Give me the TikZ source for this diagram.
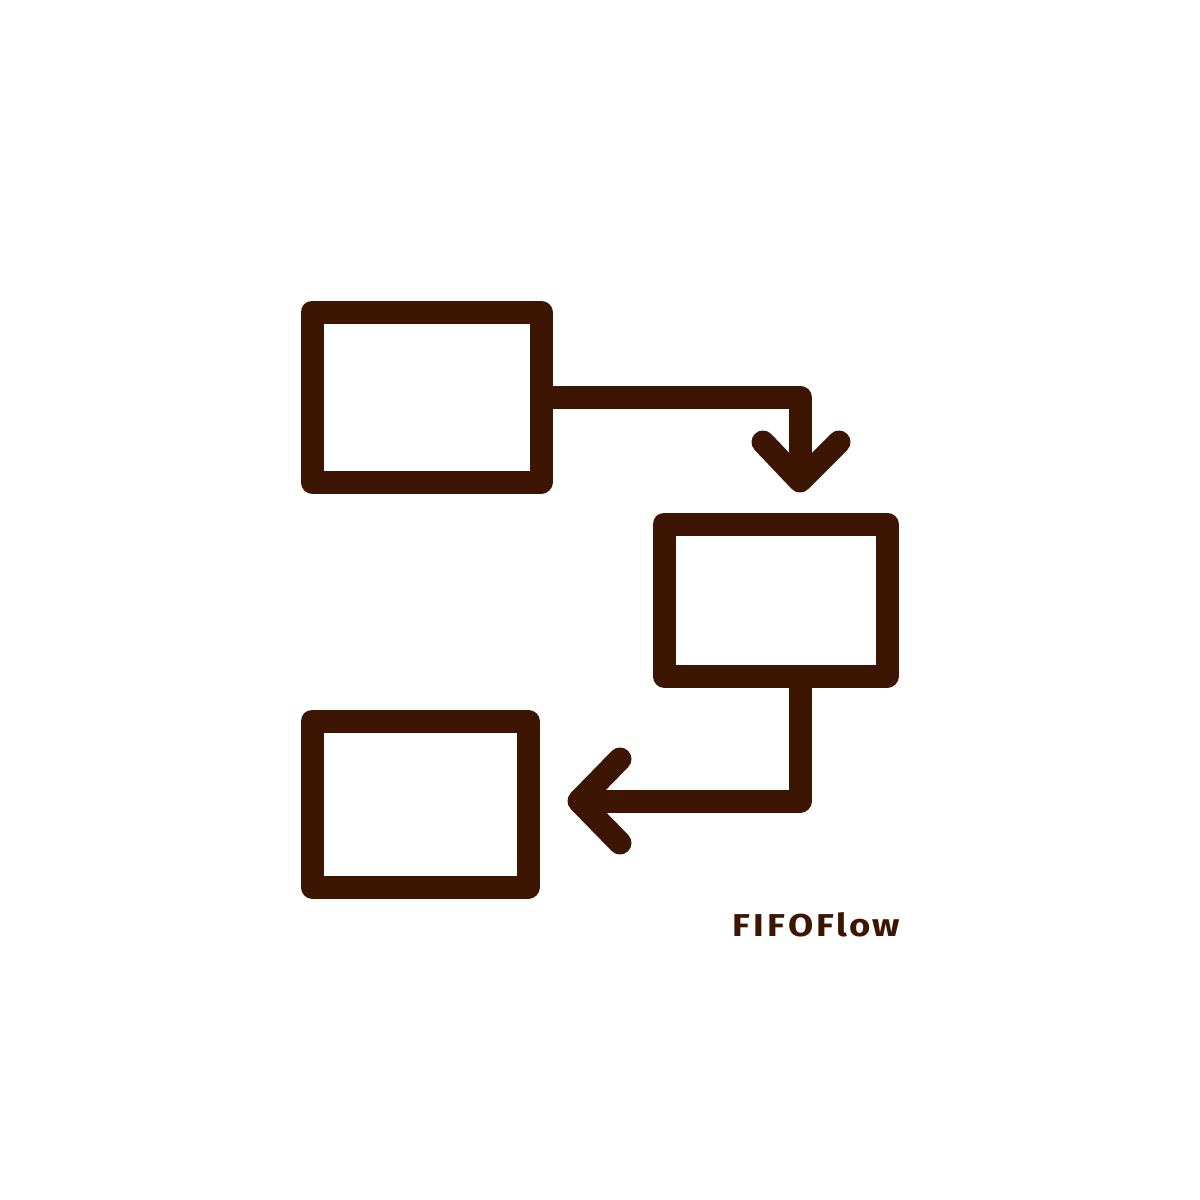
\documentclass[tikz,border=0pt]{standalone}
\usepackage{fontspec}
\usepackage{graphicx}
\usetikzlibrary{calc}
\newfontfamily\logofont{Fira Sans}
\definecolor{ink}{RGB}{60,22,2}
\begin{document}
\begin{tikzpicture}[x=0.5pt,y=-0.5pt,
  boxstyle/.style={draw=ink,line width=11.5pt,line join=round,inner sep=0pt,outer sep=0pt,rectangle},
  flowline/.style={draw=ink,line width=11.5pt,line join=round,line cap=round}]
\useasboundingbox (0,0) rectangle (1200,1200);
\node[boxstyle,minimum width=114.5pt,minimum height=85pt] (b1) at (426.5,397) {};
\node[boxstyle,minimum width=111.5pt,minimum height=76pt] (b2) at (775.5,600) {};
\node[boxstyle,minimum width=108pt,minimum height=83pt] (b3) at (420,804) {};
\coordinate (tip1) at (800,481);
\coordinate (tip2) at (579,801);
\coordinate (bend2) at (800,801);
\draw[flowline,line cap=butt] (b1.east) -| (tip1);
\draw[flowline] ($(tip1)+(-37,-39)$) -- (tip1) -- ($(tip1)+(39,-39)$);
\draw[flowline,line cap=butt] (b2.south -| tip1) -- (bend2) -- (tip2);
\draw[flowline] ($(tip2)+(41,-42)$) -- (tip2) -- ($(tip2)+(41,42)$);
\node[text=ink,inner sep=0pt] (logo) at (816.5,925) {\resizebox{83.5pt}{12pt}{\logofont\bfseries F\kern0.08em I\kern0.08em F\kern0.08em O\kern0.08em F\kern0.06em l\kern0.06em o\kern0.06em w}};
\end{tikzpicture}
\end{document}
